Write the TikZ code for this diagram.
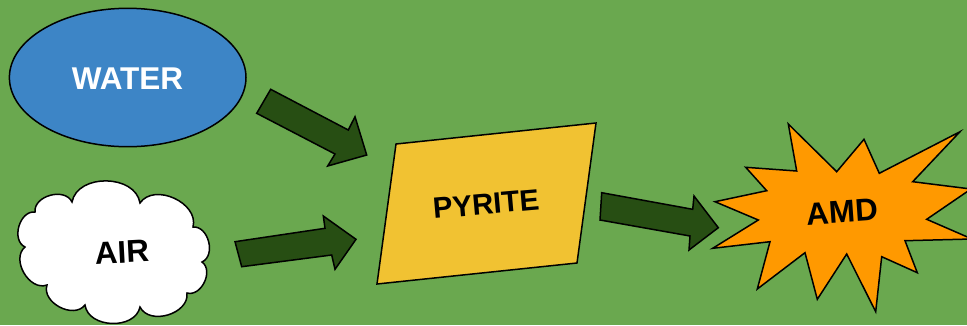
\documentclass[tikz,border=0pt]{standalone}
\usepackage{fontspec}
\setmainfont{Liberation Sans}
\usetikzlibrary{shapes.geometric}
\definecolor{bg}{HTML}{6AA84F}
\definecolor{waterblue}{HTML}{3D85C6}
\definecolor{pyr}{HTML}{F1C232}
\definecolor{amd}{HTML}{FF9900}
\definecolor{arr}{HTML}{274E13}
\tikzset{
  outline/.style={draw=black, line width=1.5pt, line join=miter},
  blockarrow/.style={outline, fill=arr},
  lbl/.style={font=\fontsize{31.5}{38}\selectfont\bfseries, inner sep=0pt},
  lblsmall/.style={font=\fontsize{29.5}{36}\selectfont\bfseries, inner sep=0pt},
  bump/.style={bend left=80, looseness=1.1}
}
\begin{document}
\begin{tikzpicture}[x=1pt,y=-1pt]
\useasboundingbox (0,0) rectangle (967,325);
\fill[bg] (0,0) rectangle (967,325);
\clip (0,0) rectangle (967,325);
% water
\node[ellipse, outline, fill=waterblue, minimum width=236.6pt, minimum height=138.4pt, inner sep=0pt] (water) at (127.7,77.5) {};
\node[lbl, text=white] (watertext) at (127.5,79) {WATER};
% cloud
\coordinate (j1) at (35,212);
\coordinate (j10) at (72,202);
\coordinate (j9) at (140,203);
\coordinate (j8) at (193,227);
\coordinate (j7) at (202,262);
\coordinate (j6) at (187,293);
\coordinate (j5) at (140,307);
\coordinate (j4) at (85,305);
\coordinate (j3) at (47,285);
\coordinate (j2) at (25,247);
\draw[outline, fill=white] (j1) to[bump] (j10) to[bump] (j9) to[bump] (j8) to[bump] (j7) to[bump] (j6) to[bump] (j5) to[bump] (j4) to[bump] (j3) to[bump] (j2) to[bump] (j1) -- cycle;
\node[lbl, rotate=3] (air) at (122,252) {AIR};
% pyrite
\coordinate (p1) at (396,144);
\coordinate (p2) at (596,123);
\coordinate (p3) at (577,263);
\coordinate (p4) at (377,284);
\draw[outline, fill=pyr] (p1) -- (p2) -- (p3) -- (p4) -- cycle;
\node[lblsmall, rotate=5] (pyrite) at (486,204) {PYRITE};
% AMD star
\draw[outline, fill=amd] (788.3,124) -- (836.7,171.7) -- (864,139.3) -- (879.3,173.3) -- (960,131.7) -- (912.7,181.7) -- (971,189) -- (926.7,219.3) -- (972,239) -- (905,240.7) -- (917.3,272.7) -- (881.7,256.7) -- (875.7,311.7) -- (846.7,254) -- (817.3,299.3) -- (805,252.7) -- (757.3,289) -- (770,241.7) -- (712.7,248.3) -- (758.3,220) -- (715,201.7) -- (766.7,190.7) -- (745.7,167.3) -- (796.7,171) -- cycle;
\node[lbl, rotate=4] (amdtext) at (842,211.7) {AMD};
% arrows
\draw[blockarrow] (270.7,89.3) -- (348.3,130) -- (355,116.7) -- (366.7,155) -- (327.7,166) -- (335,154) -- (256.7,113.3) -- cycle;
\draw[blockarrow] (235,241.7) -- (325,228.3) -- (323.3,216) -- (356,239.3) -- (335,269.3) -- (331.7,255) -- (241.7,266.7) -- cycle;
\draw[blockarrow] (601.7,192.7) -- (692.7,209.3) -- (694,196) -- (718.3,227.7) -- (689,250) -- (690,236) -- (600,220) -- cycle;
\end{tikzpicture}
\end{document}
